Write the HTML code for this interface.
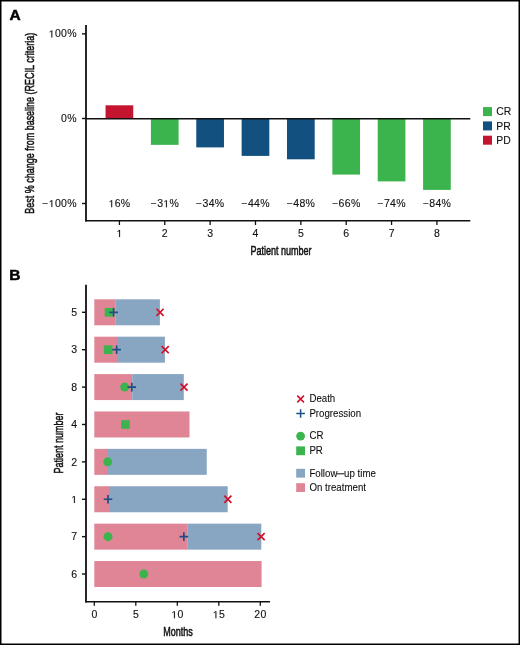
<!DOCTYPE html>
<html><head><meta charset="utf-8"><style>
html,body{margin:0;padding:0;background:#fff;width:520px;height:645px;overflow:hidden}
svg{display:block;font-family:"Liberation Sans", sans-serif;will-change:transform}
</style></head><body>
<svg width="520" height="645" viewBox="0 0 520 645">
<rect x="0" y="0" width="520" height="645" fill="#fff"/>
<text x="9.4" y="20.2" font-size="15.5" text-anchor="start" font-weight="bold" fill="#000" stroke="#000" stroke-width="0.5">A</text>
<rect x="105.55" y="105.30" width="27.70" height="13.45" fill="#c5142f"/>
<path transform="translate(108.592,207.2) scale(0.005127,-0.004922)" d="M515 0V1237L197 1010V1180L530 1409H696V0Z" fill="#111" stroke="#111" stroke-width="23.4"/>
<text transform="translate(119.55,207.2) scale(1.0,0.96)" font-size="10.5" text-anchor="middle" font-weight="normal" fill="#111" letter-spacing="0.3" stroke="#111" stroke-width="0.12"> 6%</text>
<line x1="119.4" y1="220.8" x2="119.4" y2="225" stroke="#111" stroke-width="1.3"/>
<path transform="translate(116.480,237) scale(0.005127,-0.004922)" d="M515 0V1237L197 1010V1180L530 1409H696V0Z" fill="#111" stroke="#111" stroke-width="23.4"/>
<text transform="translate(119.55,237) scale(1.0,0.96)" font-size="10.5" text-anchor="middle" font-weight="normal" fill="#111" letter-spacing="0.3" stroke="#111" stroke-width="0.12"> </text>
<rect x="150.91" y="118.75" width="27.70" height="26.10" fill="#3cb44e"/>
<path transform="translate(163.308,207.2) scale(0.005127,-0.004922)" d="M515 0V1237L197 1010V1180L530 1409H696V0Z" fill="#111" stroke="#111" stroke-width="23.4"/>
<text transform="translate(164.91,207.2) scale(1.0,0.96)" font-size="10.5" text-anchor="middle" font-weight="normal" fill="#111" letter-spacing="0.3" stroke="#111" stroke-width="0.12">−3 %</text>
<line x1="164.76" y1="220.8" x2="164.76" y2="225" stroke="#111" stroke-width="1.3"/>
<text transform="translate(164.91,237) scale(1.0,0.96)" font-size="10.5" text-anchor="middle" font-weight="normal" fill="#111" letter-spacing="0.3" stroke="#111" stroke-width="0.12">2</text>
<rect x="196.27" y="118.75" width="27.70" height="28.65" fill="#11507f"/>
<text transform="translate(210.27,207.2) scale(1.0,0.96)" font-size="10.5" text-anchor="middle" font-weight="normal" fill="#111" letter-spacing="0.3" stroke="#111" stroke-width="0.12">−34%</text>
<line x1="210.12" y1="220.8" x2="210.12" y2="225" stroke="#111" stroke-width="1.3"/>
<text transform="translate(210.27,237) scale(1.0,0.96)" font-size="10.5" text-anchor="middle" font-weight="normal" fill="#111" letter-spacing="0.3" stroke="#111" stroke-width="0.12">3</text>
<rect x="241.63" y="118.75" width="27.70" height="37.15" fill="#11507f"/>
<text transform="translate(255.63,207.2) scale(1.0,0.96)" font-size="10.5" text-anchor="middle" font-weight="normal" fill="#111" letter-spacing="0.3" stroke="#111" stroke-width="0.12">−44%</text>
<line x1="255.48" y1="220.8" x2="255.48" y2="225" stroke="#111" stroke-width="1.3"/>
<text transform="translate(255.63,237) scale(1.0,0.96)" font-size="10.5" text-anchor="middle" font-weight="normal" fill="#111" letter-spacing="0.3" stroke="#111" stroke-width="0.12">4</text>
<rect x="286.99" y="118.75" width="27.70" height="40.55" fill="#11507f"/>
<text transform="translate(300.99,207.2) scale(1.0,0.96)" font-size="10.5" text-anchor="middle" font-weight="normal" fill="#111" letter-spacing="0.3" stroke="#111" stroke-width="0.12">−48%</text>
<line x1="300.84000000000003" y1="220.8" x2="300.84000000000003" y2="225" stroke="#111" stroke-width="1.3"/>
<text transform="translate(300.99,237) scale(1.0,0.96)" font-size="10.5" text-anchor="middle" font-weight="normal" fill="#111" letter-spacing="0.3" stroke="#111" stroke-width="0.12">5</text>
<rect x="332.35" y="118.75" width="27.70" height="55.85" fill="#3cb44e"/>
<text transform="translate(346.35,207.2) scale(1.0,0.96)" font-size="10.5" text-anchor="middle" font-weight="normal" fill="#111" letter-spacing="0.3" stroke="#111" stroke-width="0.12">−66%</text>
<line x1="346.20000000000005" y1="220.8" x2="346.20000000000005" y2="225" stroke="#111" stroke-width="1.3"/>
<text transform="translate(346.35,237) scale(1.0,0.96)" font-size="10.5" text-anchor="middle" font-weight="normal" fill="#111" letter-spacing="0.3" stroke="#111" stroke-width="0.12">6</text>
<rect x="377.71" y="118.75" width="27.70" height="62.65" fill="#3cb44e"/>
<text transform="translate(391.71,207.2) scale(1.0,0.96)" font-size="10.5" text-anchor="middle" font-weight="normal" fill="#111" letter-spacing="0.3" stroke="#111" stroke-width="0.12">−74%</text>
<line x1="391.55999999999995" y1="220.8" x2="391.55999999999995" y2="225" stroke="#111" stroke-width="1.3"/>
<text transform="translate(391.71,237) scale(1.0,0.96)" font-size="10.5" text-anchor="middle" font-weight="normal" fill="#111" letter-spacing="0.3" stroke="#111" stroke-width="0.12">7</text>
<rect x="423.07" y="118.75" width="27.70" height="71.15" fill="#3cb44e"/>
<text transform="translate(437.07,207.2) scale(1.0,0.96)" font-size="10.5" text-anchor="middle" font-weight="normal" fill="#111" letter-spacing="0.3" stroke="#111" stroke-width="0.12">−84%</text>
<line x1="436.91999999999996" y1="220.8" x2="436.91999999999996" y2="225" stroke="#111" stroke-width="1.3"/>
<text transform="translate(437.07,237) scale(1.0,0.96)" font-size="10.5" text-anchor="middle" font-weight="normal" fill="#111" letter-spacing="0.3" stroke="#111" stroke-width="0.12">8</text>
<line x1="86" y1="25" x2="86" y2="221.6" stroke="#111" stroke-width="1.8"/>
<line x1="85.2" y1="220.8" x2="470.3" y2="220.8" stroke="#111" stroke-width="1.6"/>
<line x1="86" y1="118.75" x2="470.3" y2="118.75" stroke="#111" stroke-width="1.45"/>
<line x1="82" y1="33.85" x2="86" y2="33.85" stroke="#111" stroke-width="1.4"/>
<path transform="translate(48.745,37.45) scale(0.005127,-0.004922)" d="M515 0V1237L197 1010V1180L530 1409H696V0Z" fill="#111" stroke="#111" stroke-width="23.4"/>
<text transform="translate(76.8,37.45) scale(1.0,0.96)" font-size="10.5" text-anchor="end" font-weight="normal" fill="#111" letter-spacing="0.3" stroke="#111" stroke-width="0.12"> 00%</text>
<line x1="82" y1="118.5" x2="86" y2="118.5" stroke="#111" stroke-width="1.4"/>
<text transform="translate(76.8,122.1) scale(1.0,0.96)" font-size="10.5" text-anchor="end" font-weight="normal" fill="#111" letter-spacing="0.3" stroke="#111" stroke-width="0.12">0%</text>
<line x1="82" y1="203.5" x2="86" y2="203.5" stroke="#111" stroke-width="1.4"/>
<path transform="translate(48.745,207.1) scale(0.005127,-0.004922)" d="M515 0V1237L197 1010V1180L530 1409H696V0Z" fill="#111" stroke="#111" stroke-width="23.4"/>
<text transform="translate(76.8,207.1) scale(1.0,0.96)" font-size="10.5" text-anchor="end" font-weight="normal" fill="#111" letter-spacing="0.3" stroke="#111" stroke-width="0.12">− 00%</text>
<text transform="translate(281,255.0) scale(0.66,1.0)" font-size="13.7" text-anchor="middle" font-weight="normal" fill="#111" stroke="#111" stroke-width="0.55">Patient number</text>
<text transform="translate(33.6,123.3) rotate(-90) scale(0.657,1)" font-size="13.7" text-anchor="middle" fill="#111" stroke="#111" stroke-width="0.55">Best % change from baseline (RECIL criteria)</text>
<rect x="483.00" y="107.10" width="9.00" height="9.00" fill="#3cb44e"/>
<text x="496.3" y="115.3" font-size="10.4" text-anchor="start" font-weight="normal" fill="#111" stroke="#111" stroke-width="0.1">CR</text>
<rect x="483.00" y="121.40" width="9.00" height="9.00" fill="#11507f"/>
<text x="496.3" y="129.6" font-size="10.4" text-anchor="start" font-weight="normal" fill="#111" stroke="#111" stroke-width="0.1">PR</text>
<rect x="483.00" y="135.70" width="9.00" height="9.00" fill="#c5142f"/>
<text x="496.3" y="143.89999999999998" font-size="10.4" text-anchor="start" font-weight="normal" fill="#111" stroke="#111" stroke-width="0.1">PD</text>
<text x="9.3" y="280.0" font-size="15.5" text-anchor="start" font-weight="bold" fill="#000" stroke="#000" stroke-width="0.5">B</text>
<rect x="94.30" y="299.30" width="20.90" height="26.00" fill="#e08595"/>
<rect x="115.20" y="299.30" width="44.70" height="26.00" fill="#88a6c1"/>
<rect x="104.70" y="307.95" width="8.70" height="8.70" fill="#3cb44e"/>
<path d="M109.30,312.30H117.90M113.60,308.00V316.60" stroke="#1b4f85" stroke-width="1.7" fill="none"/>
<path d="M156.50,308.75L163.60,315.85M163.60,308.75L156.50,315.85" stroke="#d0112b" stroke-width="1.7" fill="none"/>
<line x1="82" y1="312.3" x2="86" y2="312.3" stroke="#111" stroke-width="1.4"/>
<text transform="translate(77.39999999999999,316.0) scale(1.0,0.96)" font-size="10.5" text-anchor="end" font-weight="normal" fill="#111" letter-spacing="0.3" stroke="#111" stroke-width="0.12">5</text>
<rect x="94.30" y="336.69" width="22.70" height="26.00" fill="#e08595"/>
<rect x="117.00" y="336.69" width="47.90" height="26.00" fill="#88a6c1"/>
<rect x="103.80" y="345.34" width="8.70" height="8.70" fill="#3cb44e"/>
<path d="M112.30,349.69H120.90M116.60,345.39V353.99" stroke="#1b4f85" stroke-width="1.7" fill="none"/>
<path d="M161.65,346.14L168.75,353.24M168.75,346.14L161.65,353.24" stroke="#d0112b" stroke-width="1.7" fill="none"/>
<line x1="82" y1="349.69" x2="86" y2="349.69" stroke="#111" stroke-width="1.4"/>
<text transform="translate(77.39999999999999,353.39) scale(1.0,0.96)" font-size="10.5" text-anchor="end" font-weight="normal" fill="#111" letter-spacing="0.3" stroke="#111" stroke-width="0.12">3</text>
<rect x="94.30" y="374.08" width="37.90" height="26.00" fill="#e08595"/>
<rect x="132.20" y="374.08" width="51.60" height="26.00" fill="#88a6c1"/>
<circle cx="124.70" cy="387.08" r="4.5" fill="#3cb44e"/>
<path d="M127.50,387.08H136.10M131.80,382.78V391.38" stroke="#1b4f85" stroke-width="1.7" fill="none"/>
<path d="M180.45,383.53L187.55,390.63M187.55,383.53L180.45,390.63" stroke="#d0112b" stroke-width="1.7" fill="none"/>
<line x1="82" y1="387.08000000000004" x2="86" y2="387.08000000000004" stroke="#111" stroke-width="1.4"/>
<text transform="translate(77.39999999999999,390.78000000000003) scale(1.0,0.96)" font-size="10.5" text-anchor="end" font-weight="normal" fill="#111" letter-spacing="0.3" stroke="#111" stroke-width="0.12">8</text>
<rect x="94.30" y="411.47" width="95.20" height="26.00" fill="#e08595"/>
<rect x="121.15" y="420.12" width="8.70" height="8.70" fill="#3cb44e"/>
<line x1="82" y1="424.47" x2="86" y2="424.47" stroke="#111" stroke-width="1.4"/>
<text transform="translate(77.39999999999999,428.17) scale(1.0,0.96)" font-size="10.5" text-anchor="end" font-weight="normal" fill="#111" letter-spacing="0.3" stroke="#111" stroke-width="0.12">4</text>
<rect x="94.30" y="448.86" width="13.70" height="26.00" fill="#e08595"/>
<rect x="108.00" y="448.86" width="98.75" height="26.00" fill="#88a6c1"/>
<circle cx="107.70" cy="461.86" r="4.5" fill="#3cb44e"/>
<line x1="82" y1="461.86" x2="86" y2="461.86" stroke="#111" stroke-width="1.4"/>
<text transform="translate(77.39999999999999,465.56) scale(1.0,0.96)" font-size="10.5" text-anchor="end" font-weight="normal" fill="#111" letter-spacing="0.3" stroke="#111" stroke-width="0.12">2</text>
<rect x="94.30" y="486.25" width="14.70" height="26.00" fill="#e08595"/>
<rect x="109.00" y="486.25" width="118.70" height="26.00" fill="#88a6c1"/>
<path d="M103.70,499.25H112.30M108.00,494.95V503.55" stroke="#1b4f85" stroke-width="1.7" fill="none"/>
<path d="M224.30,495.70L231.40,502.80M231.40,495.70L224.30,502.80" stroke="#d0112b" stroke-width="1.7" fill="none"/>
<line x1="82" y1="499.25" x2="86" y2="499.25" stroke="#111" stroke-width="1.4"/>
<path transform="translate(71.260,502.95) scale(0.005127,-0.004922)" d="M515 0V1237L197 1010V1180L530 1409H696V0Z" fill="#111" stroke="#111" stroke-width="23.4"/>
<text transform="translate(77.39999999999999,502.95) scale(1.0,0.96)" font-size="10.5" text-anchor="end" font-weight="normal" fill="#111" letter-spacing="0.3" stroke="#111" stroke-width="0.12"> </text>
<rect x="94.30" y="523.64" width="93.50" height="26.00" fill="#e08595"/>
<rect x="187.80" y="523.64" width="73.50" height="26.00" fill="#88a6c1"/>
<circle cx="108.00" cy="536.64" r="4.5" fill="#3cb44e"/>
<path d="M179.55,536.64H188.15M183.85,532.34V540.94" stroke="#1b4f85" stroke-width="1.7" fill="none"/>
<path d="M257.55,533.09L264.65,540.19M264.65,533.09L257.55,540.19" stroke="#d0112b" stroke-width="1.7" fill="none"/>
<line x1="82" y1="536.64" x2="86" y2="536.64" stroke="#111" stroke-width="1.4"/>
<text transform="translate(77.39999999999999,540.34) scale(1.0,0.96)" font-size="10.5" text-anchor="end" font-weight="normal" fill="#111" letter-spacing="0.3" stroke="#111" stroke-width="0.12">7</text>
<rect x="94.30" y="561.03" width="167.30" height="26.00" fill="#e08595"/>
<circle cx="143.80" cy="574.03" r="4.5" fill="#3cb44e"/>
<line x1="82" y1="574.03" x2="86" y2="574.03" stroke="#111" stroke-width="1.4"/>
<text transform="translate(77.39999999999999,577.73) scale(1.0,0.96)" font-size="10.5" text-anchor="end" font-weight="normal" fill="#111" letter-spacing="0.3" stroke="#111" stroke-width="0.12">6</text>
<line x1="86" y1="284.8" x2="86" y2="602.6" stroke="#111" stroke-width="1.8"/>
<line x1="85.2" y1="601.8" x2="270" y2="601.8" stroke="#111" stroke-width="1.6"/>
<line x1="94.3" y1="601.8" x2="94.3" y2="605.8" stroke="#111" stroke-width="1.3"/>
<text transform="translate(94.45,618.2) scale(1.0,0.96)" font-size="10.5" text-anchor="middle" font-weight="normal" fill="#111" letter-spacing="0.3" stroke="#111" stroke-width="0.12">0</text>
<line x1="135.8" y1="601.8" x2="135.8" y2="605.8" stroke="#111" stroke-width="1.3"/>
<text transform="translate(135.95,618.2) scale(1.0,0.96)" font-size="10.5" text-anchor="middle" font-weight="normal" fill="#111" letter-spacing="0.3" stroke="#111" stroke-width="0.12">5</text>
<line x1="177.3" y1="601.8" x2="177.3" y2="605.8" stroke="#111" stroke-width="1.3"/>
<path transform="translate(171.310,618.2) scale(0.005127,-0.004922)" d="M515 0V1237L197 1010V1180L530 1409H696V0Z" fill="#111" stroke="#111" stroke-width="23.4"/>
<text transform="translate(177.45,618.2) scale(1.0,0.96)" font-size="10.5" text-anchor="middle" font-weight="normal" fill="#111" letter-spacing="0.3" stroke="#111" stroke-width="0.12"> 0</text>
<line x1="218.8" y1="601.8" x2="218.8" y2="605.8" stroke="#111" stroke-width="1.3"/>
<path transform="translate(212.810,618.2) scale(0.005127,-0.004922)" d="M515 0V1237L197 1010V1180L530 1409H696V0Z" fill="#111" stroke="#111" stroke-width="23.4"/>
<text transform="translate(218.95,618.2) scale(1.0,0.96)" font-size="10.5" text-anchor="middle" font-weight="normal" fill="#111" letter-spacing="0.3" stroke="#111" stroke-width="0.12"> 5</text>
<line x1="260.3" y1="601.8" x2="260.3" y2="605.8" stroke="#111" stroke-width="1.3"/>
<text transform="translate(260.45,618.2) scale(1.0,0.96)" font-size="10.5" text-anchor="middle" font-weight="normal" fill="#111" letter-spacing="0.3" stroke="#111" stroke-width="0.12">20</text>
<text transform="translate(178.0,635.8) scale(0.66,1.0)" font-size="13.7" text-anchor="middle" font-weight="normal" fill="#111" stroke="#111" stroke-width="0.55">Months</text>
<text transform="translate(62.5,443) rotate(-90) scale(0.66,1)" font-size="13.7" text-anchor="middle" fill="#111" stroke="#111" stroke-width="0.55">Patient number</text>
<path d="M297.25,395.65L303.95,402.35M303.95,395.65L297.25,402.35" stroke="#d0112b" stroke-width="1.5" fill="none"/>
<text transform="translate(309.4,402.2) scale(0.97,1.0)" font-size="10.0" text-anchor="start" font-weight="normal" fill="#111" stroke="#111" stroke-width="0.1">Death</text>
<path d="M296.30,413.50H304.90M300.60,409.20V417.80" stroke="#1b4f85" stroke-width="1.5" fill="none"/>
<text transform="translate(309.4,417.0) scale(0.97,1.0)" font-size="10.0" text-anchor="start" font-weight="normal" fill="#111" stroke="#111" stroke-width="0.1">Progression</text>
<circle cx="300.60" cy="436.10" r="4.4" fill="#3cb44e"/>
<text transform="translate(309.4,439.2) scale(0.97,1.0)" font-size="10.0" text-anchor="start" font-weight="normal" fill="#111" stroke="#111" stroke-width="0.1">CR</text>
<rect x="296.20" y="446.40" width="8.80" height="8.80" fill="#3cb44e"/>
<text transform="translate(309.4,454.2) scale(0.97,1.0)" font-size="10.0" text-anchor="start" font-weight="normal" fill="#111" stroke="#111" stroke-width="0.1">PR</text>
<rect x="296.20" y="468.80" width="8.80" height="8.80" fill="#88a6c1"/>
<text transform="translate(309.4,476.5) scale(0.97,1.0)" font-size="10.0" text-anchor="start" font-weight="normal" fill="#111" stroke="#111" stroke-width="0.1">Follow</text>
<rect x="336.92" y="473.30" width="7.40" height="1.00" fill="#111"/>
<text transform="translate(344.1233,476.5) scale(0.97,1.0)" font-size="10.0" text-anchor="start" font-weight="normal" fill="#111" stroke="#111" stroke-width="0.1">up time</text>
<rect x="296.20" y="483.20" width="8.80" height="8.80" fill="#e08595"/>
<text transform="translate(309.4,490.6) scale(0.97,1.0)" font-size="10.0" text-anchor="start" font-weight="normal" fill="#111" stroke="#111" stroke-width="0.1">On treatment</text>
<rect x="0.75" y="0.75" width="518.5" height="643.5" fill="none" stroke="#000" stroke-width="1.5"/>
</svg>
</body></html>
